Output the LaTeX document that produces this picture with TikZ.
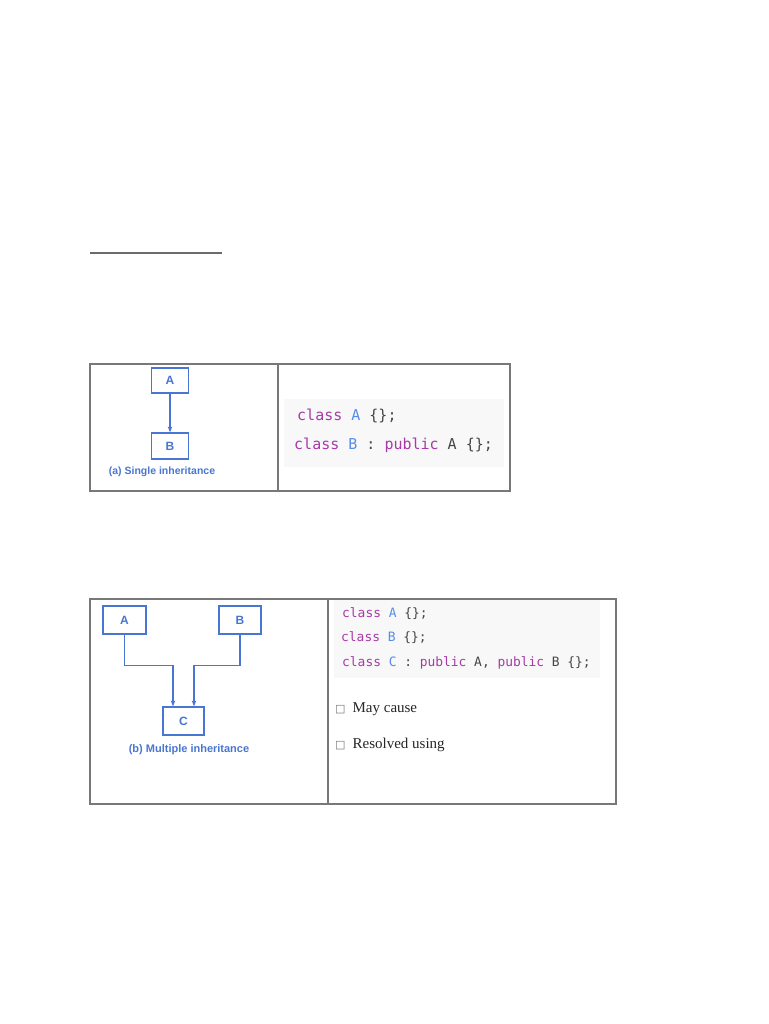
\documentclass[tikz,border=0pt]{standalone}
\usepackage{fontspec}
\setmainfont{Liberation Serif}
\newfontfamily\diagfont{Liberation Sans}
\newfontfamily\codefont{DejaVu Sans Mono}
\newfontfamily\symfont{DejaVu Sans}
\usetikzlibrary{arrows.meta}
\definecolor{diag}{RGB}{72,118,210}
\definecolor{kw}{RGB}{168,58,168}
\definecolor{cls}{RGB}{88,140,235}
\definecolor{plain}{RGB}{70,70,70}
\definecolor{codebg}{RGB}{248,248,248}
\definecolor{rule}{RGB}{120,120,120}
\tikzset{
  frame/.style={draw=rule, line width=1.3pt},
  clsbox/.style={draw=diag, line width=1.2pt, inner sep=0pt, font=\diagfont\bfseries\fontsize{12}{14}\selectfont, text=diag},
  arr/.style={draw=diag, line width=1.1pt, -{Stealth[length=6pt,width=4.5pt]}},
  caption/.style={font=\diagfont\bfseries\fontsize{10.5}{12}\selectfont, text=diag},
  codeA/.style={anchor=base west, inner sep=0pt, font=\codefont\fontsize{15}{18}\selectfont, text=plain},
  codeB/.style={anchor=base west, inner sep=0pt, font=\codefont\fontsize{12.9}{15}\selectfont, text=plain},
  bullet/.style={anchor=base west, inner sep=0pt, font=\fontsize{15}{18}\selectfont, text=black!85}
}
\newcommand{\kwd}[1]{\textcolor{kw}{#1}}
\newcommand{\cln}[1]{\textcolor{cls}{#1}}
\begin{document}
\begin{tikzpicture}[x=1pt,y=-1pt]
\useasboundingbox[fill=white] (0,0) rectangle (768,1024);
% heading underline
\draw[draw=rule!90!black, line width=2pt] (90,253) -- (222,253);

% ---- Table 1 ----
\fill[codebg] (284,399) rectangle (504,467);
\draw[frame] (90,364) rectangle (510,491);
\draw[frame] (278,364) -- (278,491);
\node[clsbox, minimum width=37pt, minimum height=25pt] (A1) at (170,380.5) {A};
\node[clsbox, minimum width=37pt, minimum height=26pt] (B1) at (170,446) {B};
\draw[arr] (A1.south) -- (B1.north);
\node[caption] (cap1) at (162,472) {(a) Single inheritance};
\node[codeA] (c11) at (297,420) {\kwd{class} \cln{A} \{\};};
\node[codeA] (c12) at (294,449) {\kwd{class} \cln{B} : \kwd{public} A \{\};};

% ---- Table 2 ----
\fill[codebg] (334,600) rectangle (600,678);
\draw[frame] (90,599) rectangle (616,804);
\draw[frame] (328,599) -- (328,804);
\node[clsbox, minimum width=43pt, minimum height=28pt] (A2) at (124.5,620) {A};
\node[clsbox, minimum width=42pt, minimum height=28pt] (B2) at (240,620) {B};
\node[clsbox, minimum width=41pt, minimum height=28pt] (C2) at (183.5,721) {C};
\coordinate (ca) at ([xshift=-10.5pt]C2.north);
\coordinate (cb) at ([xshift=10.5pt]C2.north);
\draw[arr] (A2.south) -- ++(0,31) -| (ca);
\draw[arr] (B2.south) -- ++(0,31) -| (cb);
\node[caption, font=\diagfont\bfseries\fontsize{11}{13}\selectfont] (cap2) at (189,750) {(b) Multiple inheritance};
\node[codeB] (c21) at (342,617) {\kwd{class} \cln{A} \{\};};
\node[codeB] (c22) at (341,641) {\kwd{class} \cln{B} \{\};};
\node[codeB] (c23) at (342,666) {\kwd{class} \cln{C} : \kwd{public} A, \kwd{public} B \{\};};
\node[bullet] (b1) at (335,712) {{\symfont\fontsize{11}{13}\selectfont\textcolor{black!55}{□}}\hspace{7pt}May cause};
\node[bullet] (b2) at (335,748) {{\symfont\fontsize{11}{13}\selectfont\textcolor{black!55}{□}}\hspace{7pt}Resolved using};
\end{tikzpicture}
\end{document}
